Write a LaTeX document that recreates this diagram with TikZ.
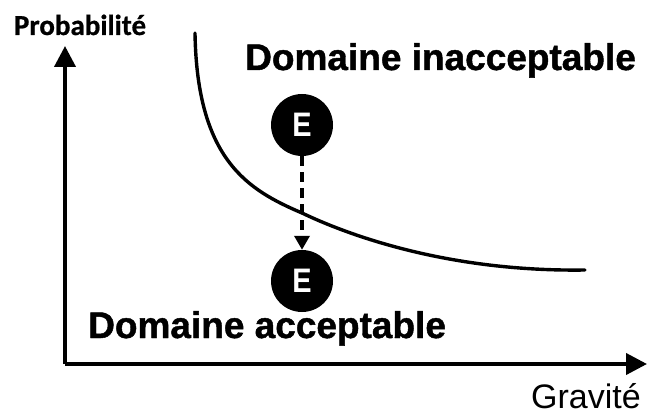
\documentclass[tikz,border=0pt]{standalone}
\usepackage{fontspec}
\setmainfont{Liberation Sans}
\newfontfamily\labelfont{Carlito Bold}[FakeBold=0.6]
\newfontfamily\heavyfont{Liberation Sans Bold}[FakeBold=1.2]
\newfontfamily\letterfont{Liberation Sans Bold}[FakeStretch=0.85]
\usetikzlibrary{arrows.meta}
\begin{document}
\begin{tikzpicture}[x=1pt,y=-1pt,
  axis/.style={line width=4pt,-{Triangle[length=21pt,width=21pt]}},
  event/.style={circle,fill=black,minimum size=62pt,inner sep=0pt,text=white,font=\letterfont\fontsize{34}{34}\selectfont},
  zonelabel/.style={font=\heavyfont\fontsize{37}{37}\selectfont,anchor=base west,inner sep=0pt},
  move/.style={line width=3.4pt,dash pattern=on 10pt off 6pt,-{Triangle[length=14pt,width=15pt]}}]
\useasboundingbox (0,0) rectangle (656,414);
% axes
\coordinate (O) at (65,364);
\coordinate (ytip) at (65,46);
\coordinate (xtip) at (647,364);
\draw[axis] (O) -- (ytip);
\draw[axis] (O) -- (xtip);
\node[font=\labelfont\fontsize{29}{29}\selectfont,anchor=base,inner sep=0pt] (prob) at (80,35) {Probabilité};
\node[font=\fontsize{34}{34}\selectfont,anchor=base east,inner sep=0pt] (grav) at (641,408) {Gravité};
% acceptability boundary
\coordinate (c0) at (195,33);
\coordinate (c1) at (302,213);
\coordinate (c2) at (585,270);
\draw[line width=3.4pt,line cap=round]
  (c0) .. controls (197,160) and (248,190) .. (c1)
       .. controls (350,236) and (450,272) .. (c2);
% zones
\node[zonelabel] (inacc) at (245,70) {Domaine inacceptable};
\node[zonelabel] (acc) at (88,338) {Domaine acceptable};
% event before and after risk reduction
\node[event] (e1) at (302,125) {E};
\node[event] (e2) at (302,281) {E};
\draw[move] (e1) -- (e2);
\end{tikzpicture}
\end{document}
